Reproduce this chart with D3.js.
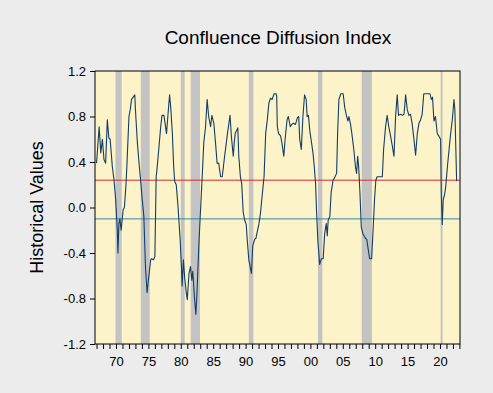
<!DOCTYPE html>
<html>
<head>
<meta charset="utf-8">
<script src="https://cdn.jsdelivr.net/npm/d3@7"></script>
<style>
  body { margin: 0; background: #ececec; }
  svg { display: block; font-family: "Liberation Sans", Arial, sans-serif; }
  .axis path, .axis line { stroke: #000; }
  .axis text { font-size: 13px; fill: #000; }
</style>
</head>
<body>
<div id="plot"></div>
<script>
// decimal years and index values
var dates = [
  1967.0, 1967.4, 1967.65, 1967.9, 1968.15, 1968.4, 1968.66, 1968.9, 1969.1, 1969.43,
  1969.7, 1969.95, 1970.2, 1970.3, 1970.45, 1970.6, 1970.8, 1971.1, 1971.3, 1971.55,
  1971.7, 1972.0, 1972.2, 1972.4, 1972.9, 1973.0, 1973.3, 1973.6, 1973.8, 1974.0,
  1974.3, 1974.55, 1974.8, 1975.0, 1975.35, 1975.5, 1975.8, 1976.0, 1976.2, 1976.3,
  1976.6, 1976.9, 1977.1, 1977.4, 1977.8, 1978.0, 1978.27, 1978.45, 1978.7, 1978.9,
  1979.05, 1979.3, 1979.57, 1979.9, 1980.1, 1980.2, 1980.4, 1980.6, 1980.85, 1981.0,
  1981.27, 1981.5, 1981.7, 1981.85, 1982.13, 1982.33, 1982.5, 1982.8, 1983.05, 1983.3,
  1983.55, 1983.82, 1984.07, 1984.3, 1984.6, 1984.8, 1985.1, 1985.4, 1985.6, 1985.85,
  1986.15, 1986.4, 1986.7, 1987.2, 1987.6, 1987.8, 1988.1, 1988.25, 1988.4, 1988.8,
  1988.95, 1989.2, 1989.4, 1989.63, 1989.85, 1990.1, 1990.25, 1990.5, 1990.7, 1990.9,
  1991.1, 1991.4, 1991.6, 1992.07, 1992.3, 1992.6, 1992.85, 1993.1, 1993.35, 1993.6,
  1993.85, 1994.1, 1994.4, 1994.7, 1994.8, 1994.9, 1995.1, 1995.4, 1995.6, 1995.9,
  1996.1, 1996.4, 1996.6, 1996.9, 1997.1, 1997.4, 1997.7, 1998.0, 1998.2, 1998.35,
  1998.6, 1998.85, 1999.1, 1999.35, 1999.5, 1999.7, 1999.9, 2000.1, 2000.4, 2000.6,
  2000.8, 2000.95, 2001.17, 2001.3, 2001.43, 2001.7, 2001.98, 2002.2, 2002.45, 2002.6,
  2002.75, 2003.0, 2003.2, 2003.5, 2003.8, 2004.05, 2004.2, 2004.4, 2004.7, 2005.06,
  2005.3, 2005.6, 2005.8, 2005.95, 2006.2, 2006.4, 2006.7, 2006.95, 2007.13, 2007.3,
  2007.45, 2007.65, 2007.85, 2008.1, 2008.5, 2008.7, 2008.93, 2009.14, 2009.45, 2009.7,
  2009.9, 2010.1, 2010.3, 2011.1, 2011.3, 2011.6, 2011.85, 2012.1, 2012.4, 2012.65,
  2012.9, 2013.15, 2013.4, 2013.6, 2013.9, 2014.2, 2014.45, 2014.7, 2014.95, 2015.2,
  2015.45, 2015.7, 2016.0, 2016.24, 2016.5, 2016.75, 2017.0, 2017.25, 2017.5, 2018.0,
  2018.46, 2018.65, 2018.85, 2019.07, 2019.3, 2019.58, 2019.8, 2020.1, 2020.2, 2020.35,
  2020.5, 2020.7, 2020.9, 2021.15, 2021.4, 2021.65, 2021.9, 2022.16, 2022.3, 2022.45,
  2022.57
];

var values = [
  0.39, 0.71, 0.48, 0.60, 0.42, 0.39, 0.77, 0.61, 0.60, 0.36,
  0.24, 0.07, -0.20, -0.40, -0.14, -0.10, -0.20, -0.02, 0.00, 0.21,
  0.39, 0.80, 0.86, 0.95, 0.99, 0.86, 0.57, 0.36, 0.24, 0.10,
  -0.08, -0.52, -0.75, -0.64, -0.46, -0.45, -0.46, -0.43, 0.27, 0.32,
  0.51, 0.71, 0.81, 0.81, 0.65, 0.80, 0.99, 0.88, 0.65, 0.36,
  0.23, 0.20, 0.01, -0.28, -0.52, -0.69, -0.46, -0.62, -0.75, -0.81,
  -0.58, -0.52, -0.64, -0.56, -0.81, -0.94, -0.75, -0.31, -0.02, 0.27,
  0.57, 0.71, 0.95, 0.80, 0.71, 0.81, 0.74, 0.54, 0.39, 0.39,
  0.27, 0.27, 0.42, 0.65, 0.81, 0.63, 0.45, 0.57, 0.65, 0.70,
  0.45, 0.27, 0.21, -0.04, -0.11, -0.15, -0.28, -0.46, -0.52, -0.58,
  -0.34, -0.28, -0.27, -0.14, -0.05, 0.13, 0.27, 0.65, 0.77, 0.92,
  0.96, 0.95, 1.00, 1.00, 0.98, 0.71, 0.65, 0.63, 0.57, 0.45,
  0.60, 0.77, 0.80, 0.71, 0.73, 0.74, 0.73, 0.79, 0.80, 0.60,
  0.51, 0.80, 0.99, 0.95, 0.80, 0.81, 0.68, 0.60, 0.48, 0.36,
  0.21, -0.03, -0.31, -0.40, -0.50, -0.45, -0.45, -0.23, -0.14, -0.25,
  -0.11, -0.08, 0.13, 0.24, 0.27, 0.30, 0.65, 0.95, 1.00, 1.00,
  0.88, 0.80, 0.76, 0.80, 0.73, 0.65, 0.51, 0.36, 0.30, 0.45,
  0.36, 0.13, -0.17, -0.23, -0.27, -0.28, -0.37, -0.45, -0.45, -0.17,
  0.07, 0.24, 0.27, 0.27, 0.51, 0.71, 0.81, 0.71, 0.62, 0.54,
  0.45, 0.80, 0.99, 0.81, 0.82, 0.81, 0.82, 0.99, 0.86, 0.81,
  0.82, 0.74, 0.59, 0.46, 0.65, 0.74, 0.77, 0.82, 1.00, 1.00,
  1.00, 0.95, 0.97, 0.76, 0.80, 0.65, 0.63, 0.60, 0.13, -0.15,
  0.07, 0.11, 0.19, 0.36, 0.51, 0.65, 0.77, 0.95, 0.86, 0.51,
  0.23
];

// recession periods (start, end) in decimal years
var recStart = [1969.92, 1973.83, 1980.0, 1981.53, 1990.5, 2001.17, 2007.92, 2020.1];
var recEnd   = [1970.88, 1975.2, 1980.6, 1982.96, 1991.2, 2001.85, 2009.5, 2020.4];

// reference levels
var upperLevel = 0.24;
var lowerLevel = -0.10;

var yTicks = [-1.2, -0.8, -0.4, 0.0, 0.4, 0.8, 1.2];
var xTickYears = d3.range(1967, 2024);

var m = { top: 71, right: 33, bottom: 49, left: 95 };
var W = 493, H = 393;
var w = W - m.left - m.right;
var h = H - m.top - m.bottom;

var xscale = d3.scaleLinear().domain([1966.76, 2023.09]).range([0, w]);
var yscale = d3.scaleLinear().domain([-1.2, 1.2]).range([h, 0]);

var svg = d3.select('#plot').append('svg')
  .attr('width', W)
  .attr('height', H);

svg.append('rect')
  .attr('width', W).attr('height', H)
  .attr('fill', '#ececec');

var g = svg.append('g')
  .attr('transform', 'translate(' + m.left + ',' + m.top + ')');

g.append('rect')
  .attr('width', w).attr('height', h)
  .attr('fill', '#fdf3c8');

// recession shading
g.selectAll('rect.rec')
  .data(recStart)
  .enter().append('rect')
  .attr('class', 'rec')
  .attr('x', function(d) { return xscale(d); })
  .attr('width', function(d, i) { return xscale(recEnd[i]) - xscale(d); })
  .attr('y', 0)
  .attr('height', h)
  .attr('fill', '#c3c3c3');

g.append('line')
  .attr('x1', 0).attr('x2', w)
  .attr('y1', yscale(upperLevel)).attr('y2', yscale(upperLevel))
  .attr('stroke', '#d42a2a').attr('stroke-width', 1);

g.append('line')
  .attr('x1', 0).attr('x2', w)
  .attr('y1', yscale(lowerLevel)).attr('y2', yscale(lowerLevel))
  .attr('stroke', '#2b88aa').attr('stroke-width', 1);

var line = d3.line()
  .x(function(d, i) { return xscale(dates[i]); })
  .y(function(d) { return yscale(d); });

g.append('path')
  .datum(values)
  .attr('d', line)
  .attr('fill', 'none')
  .attr('stroke', '#123d66')
  .attr('stroke-width', 1.1)
  .attr('stroke-linejoin', 'round');

// frame
g.append('rect')
  .attr('width', w).attr('height', h)
  .attr('fill', 'none')
  .attr('stroke', '#000')
  .attr('stroke-width', 1);

var yaxis = d3.axisLeft(yscale)
  .tickValues(yTicks)
  .tickSize(5)
  .tickPadding(4)
  .tickFormat(function(d) { return d.toFixed(1); });

g.append('g')
  .attr('class', 'axis yaxis')
  .call(yaxis)
  .select('.domain').remove();

var xaxis = d3.axisBottom(xscale)
  .tickValues(xTickYears)
  .tickSize(5)
  .tickPadding(8)
  .tickFormat(function(d) {
    return d % 5 == 0 ? String(d % 100).padStart(2, '0') : '';
  });

g.append('g')
  .attr('class', 'axis xaxis')
  .attr('transform', 'translate(0,' + h + ')')
  .call(xaxis)
  .select('.domain').remove();

svg.append('text')
  .attr('x', 278)
  .attr('y', 44)
  .attr('text-anchor', 'middle')
  .attr('font-size', 19)
  .text('Confluence Diffusion Index');

svg.append('text')
  .attr('transform', 'translate(43,' + (m.top + h / 2) + ') rotate(-90)')
  .attr('text-anchor', 'middle')
  .attr('font-size', 18)
  .text('Historical Values');
</script>
</body>
</html>
